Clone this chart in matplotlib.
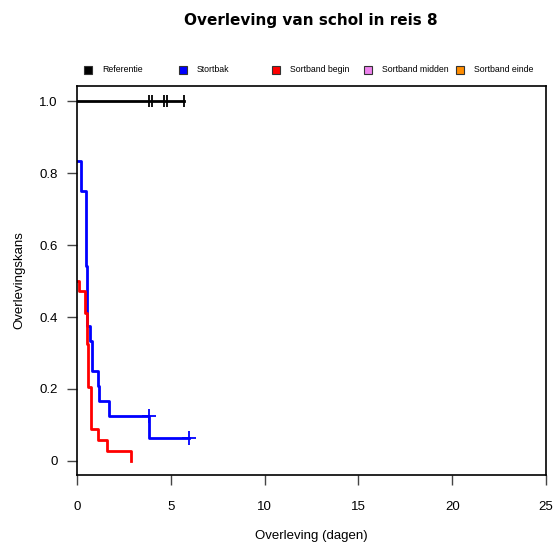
import numpy as np
import matplotlib
matplotlib.use('Agg')
import matplotlib.pyplot as plt

plt.rcParams['font.family'] = ['Liberation Sans', 'DejaVu Sans']

# Kaplan-Meier curves (step times and survival after each step)
ref_t = [0, 5.68]
ref_s = [1.0, 1.0]
ref_cens_t = [3.86, 4.0, 4.63, 4.79, 5.68]
ref_cens_s = [1.0, 1.0, 1.0, 1.0, 1.0]

stort_t = [0, 0.2, 0.5, 0.55, 0.68, 0.8, 1.12, 1.19, 1.73, 3.86, 5.95]
stort_s = [0.833, 0.75, 0.542, 0.375, 0.333, 0.25, 0.208, 0.167, 0.125, 0.0625, 0.0625]
stort_cens_t = [3.86, 5.95]
stort_cens_s = [0.125, 0.0625]

begin_t = [0, 0.1, 0.45, 0.55, 0.6, 0.77, 1.14, 1.59, 2.87]
begin_s = [0.5, 0.471, 0.412, 0.324, 0.206, 0.088, 0.059, 0.029, 0.0]

legend_labels = ['Referentie', 'Stortbak', 'Sortband begin', 'Sortband midden', 'Sortband einde']
legend_colors = ['black', 'blue', 'red', 'violet', 'darkorange']

fig = plt.figure(figsize=(5.57, 5.48), dpi=100)
ax = fig.add_axes([77 / 557, 1 - 475 / 548, 469 / 557, 389 / 548])

lw = 2.0
ax.step(ref_t, ref_s, where='post', color='black', lw=lw)
ax.plot(ref_cens_t, ref_cens_s, ls='none', marker='|', ms=9, mew=1.3, color='black')

ax.step(stort_t, stort_s, where='post', color='blue', lw=lw)
ax.plot(stort_cens_t, stort_cens_s, ls='none', marker='+', ms=10, mew=1.3, color='blue')

ax.step(begin_t, begin_s, where='post', color='red', lw=lw)

ax.set_xlim(0, 25)
ax.set_ylim(-0.039, 1.042)
ax.set_xticks([0, 5, 10, 15, 20, 25])
ax.set_yticks([0, 0.2, 0.4, 0.6, 0.8, 1.0])
ax.set_yticklabels(['0', '0.2', '0.4', '0.6', '0.8', '1.0'])
ax.tick_params(direction='out', length=7, width=1, labelsize=9.5, color='#444444')
ax.tick_params(axis='x', pad=12)
ax.tick_params(axis='y', pad=7)
for sp in ax.spines.values():
    sp.set_linewidth(1.2)

ax.set_xlabel('Overleving (dagen)', fontsize=9.5, labelpad=12)
ax.set_ylabel('Overlevingskans', fontsize=9.5, labelpad=10)
fig.text(311 / 557, 1 - 20 / 548, 'Overleving van schol in reis 8', ha='center', va='center',
         fontsize=11, fontweight='bold', family=['DejaVu Sans'])

# legend row above the plot
leg_x = [88, 183, 276, 368, 460]
for x, lab, col in zip(leg_x, legend_labels, legend_colors):
    fig.lines.append(plt.Line2D([x / 557], [1 - 70 / 548], transform=fig.transFigure,
                                marker='s', ms=5.5, mfc=col, mec='#333333', mew=0.8, ls='none'))
    fig.text((x + 14) / 557, 1 - 70 / 548, lab, ha='left', va='center', fontsize=6.3)

fig.savefig('out.png', dpi=100)
